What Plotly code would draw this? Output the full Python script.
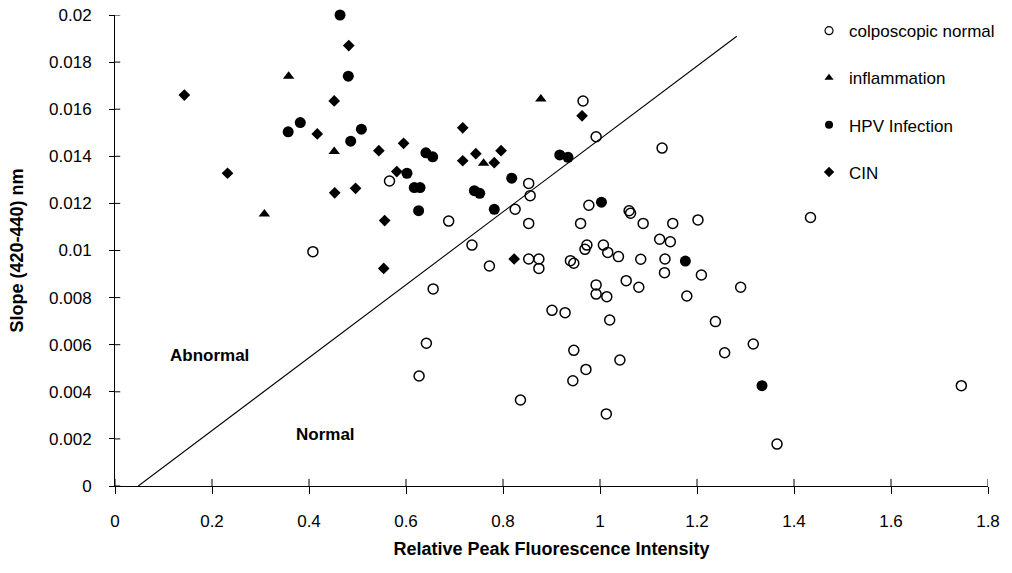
import plotly.graph_objects as go

# ---------------- data ----------------
normal_x = [0.566, 0.408, 0.965, 0.992, 1.128, 0.853, 0.856, 0.825, 0.688, 0.853,
            0.977, 0.960, 1.060, 1.063, 1.089, 1.150, 1.202, 0.736, 1.123, 1.145,
            0.973, 0.969, 1.007, 1.016, 0.772, 0.853, 0.874, 0.874, 0.939, 0.946,
            1.038, 1.084, 1.134, 1.133, 1.209, 1.290, 0.992, 0.992, 1.014, 1.054,
            1.080, 1.179, 0.656, 0.901, 0.928, 1.020, 1.238, 0.642, 0.946, 1.257,
            1.041, 0.627, 0.971, 0.944, 0.836, 1.013, 1.316, 1.365, 1.745, 1.434]
normal_y = [0.01295, 0.00995, 0.01635, 0.01483, 0.01435, 0.01285, 0.01233, 0.01175, 0.01125, 0.01115,
            0.01192, 0.01115, 0.01169, 0.01158, 0.01115, 0.01115, 0.01130, 0.01023, 0.01048, 0.01037,
            0.01023, 0.01005, 0.01023, 0.00992, 0.00934, 0.00964, 0.00964, 0.00924, 0.00957, 0.00946,
            0.00974, 0.00963, 0.00964, 0.00906, 0.00896, 0.00844, 0.00854, 0.00815, 0.00804, 0.00872,
            0.00844, 0.00807, 0.00837, 0.00746, 0.00736, 0.00705, 0.00698, 0.00606, 0.00576, 0.00566,
            0.00535, 0.00467, 0.00495, 0.00447, 0.00365, 0.00306, 0.00603, 0.00178, 0.00426, 0.01140]

inflam_x = [0.358, 0.452, 0.308, 0.878, 0.760]
inflam_y = [0.0174, 0.0142, 0.01155, 0.01643, 0.0137]

hpv_x = [0.464, 0.481, 0.357, 0.382, 0.508, 0.486, 0.641, 0.655, 0.602, 0.617,
         0.629, 0.626, 0.917, 0.934, 0.818, 0.741, 0.752, 0.782, 1.003, 1.176, 1.334]
hpv_y = [0.0200, 0.0174, 0.01504, 0.01543, 0.01515, 0.01464, 0.01415, 0.01398, 0.01328, 0.01267,
         0.01267, 0.01169, 0.01406, 0.01396, 0.01307, 0.01254, 0.01243, 0.01175, 0.01205, 0.00955, 0.00426]

cin_x = [0.482, 0.143, 0.452, 0.417, 0.544, 0.595, 0.232, 0.581, 0.453, 0.496,
         0.556, 0.963, 0.717, 0.744, 0.796, 0.717, 0.782, 0.823, 0.554]
cin_y = [0.0187, 0.0166, 0.01635, 0.01495, 0.01424, 0.01455, 0.01328, 0.01335, 0.01245, 0.01264,
         0.01127, 0.01572, 0.01521, 0.01411, 0.01424, 0.01381, 0.01373, 0.00964, 0.00924]

divider_x = [0.048, 1.282]
divider_y = [0.0, 0.0191]

x_ticks = [0, 0.2, 0.4, 0.6, 0.8, 1.0, 1.2, 1.4, 1.6, 1.8]
x_labels = ["0", "0.2", "0.4", "0.6", "0.8", "1", "1.2", "1.4", "1.6", "1.8"]
y_ticks = [0, 0.002, 0.004, 0.006, 0.008, 0.010, 0.012, 0.014, 0.016, 0.018, 0.020]
y_labels = ["0", "0.002", "0.004", "0.006", "0.008", "0.01", "0.012", "0.014", "0.016", "0.018", "0.02"]

region_labels = ["Abnormal", "Normal"]
region_x = [0.194, 0.433]
region_y = [0.00556, 0.00217]

FONT = "Liberation Sans, Arial, Helvetica, sans-serif"

fig = go.Figure()

fig.add_trace(go.Scatter(x=divider_x, y=divider_y, mode="lines",
                         line=dict(color="black", width=1.1),
                         showlegend=False, hoverinfo="skip"))

series = [
    ("colposcopic normal", normal_x, normal_y, "circle-open", 10),
    ("inflammation", inflam_x, inflam_y, "triangle-up", 10),
    ("HPV Infection", hpv_x, hpv_y, "circle", 11),
    ("CIN", cin_x, cin_y, "diamond", 9),
]

for name, xs, ys, sym, size in series:
    fig.add_trace(go.Scatter(
        x=xs, y=ys, mode="markers", name=name, showlegend=False,
        cliponaxis=False,
        marker=dict(symbol=sym, size=size, color="black",
                    line=dict(color="black", width=1.5 if sym.endswith("open") else 0)),
    ))

# legend entries (smaller symbols, as in the original legend)
for i, (name, xs, ys, sym, size) in enumerate(series):
    fig.add_trace(go.Scatter(
        x=[None], y=[None], mode="markers", name=name, legendgroup=f"g{i}",
        marker=dict(symbol=sym, size=8, color="black",
                    line=dict(color="black", width=1.2 if sym.endswith("open") else 0)),
    ))

shapes = []
for v in x_ticks:
    shapes.append(dict(type="line", xref="x", yref="paper", x0=v, x1=v, y0=0, y1=0.015,
                       line=dict(color="black", width=1)))
for v in y_ticks:
    shapes.append(dict(type="line", xref="paper", yref="y", x0=0, x1=0.006, y0=v, y1=v,
                       line=dict(color="black", width=1)))

annotations = []
for t, ax_, ay_ in zip(region_labels, region_x, region_y):
    annotations.append(dict(x=ax_, y=ay_, xref="x", yref="y", text=f"<b>{t}</b>",
                            showarrow=False, font=dict(family=FONT, size=17, color="black")))

fig.update_layout(
    width=1012, height=573,
    margin=dict(l=115, r=17, t=15, b=87),
    paper_bgcolor="white", plot_bgcolor="white",
    font=dict(family=FONT, color="black", size=17),
    shapes=shapes,
    annotations=annotations,
    legend=dict(x=0.795, y=1.004, xanchor="left", yanchor="top",
                font=dict(family=FONT, size=17, color="black"),
                tracegroupgap=22, bgcolor="rgba(0,0,0,0)"),
    xaxis=dict(range=[0, 1.8], tickvals=x_ticks, ticktext=x_labels,
               showline=True, linecolor="black", linewidth=1,
               ticks="outside", ticklen=7, tickcolor="black", tickwidth=1,
               showgrid=False, zeroline=False, ticklabelstandoff=13,
               tickfont=dict(family=FONT, size=17, color="black"),
               title=dict(text="<b>Relative Peak Fluorescence Intensity</b>",
                          font=dict(family=FONT, size=18, color="black"), standoff=11),
               automargin=False),
    yaxis=dict(range=[0, 0.02], tickvals=y_ticks, ticktext=y_labels,
               showline=True, linecolor="black", linewidth=1,
               ticks="outside", ticklen=5, tickcolor="black", tickwidth=1,
               showgrid=False, zeroline=False, ticklabelstandoff=14,
               tickfont=dict(family=FONT, size=17, color="black"),
               title=dict(text="<b>Slope (420-440) nm</b>",
                          font=dict(family=FONT, size=18, color="black"), standoff=20),
               automargin=False),
)

fig.write_html("out.html", config={"displayModeBar": False},
               post_script="document.body.style.margin='0';document.body.style.overflow='hidden';")
